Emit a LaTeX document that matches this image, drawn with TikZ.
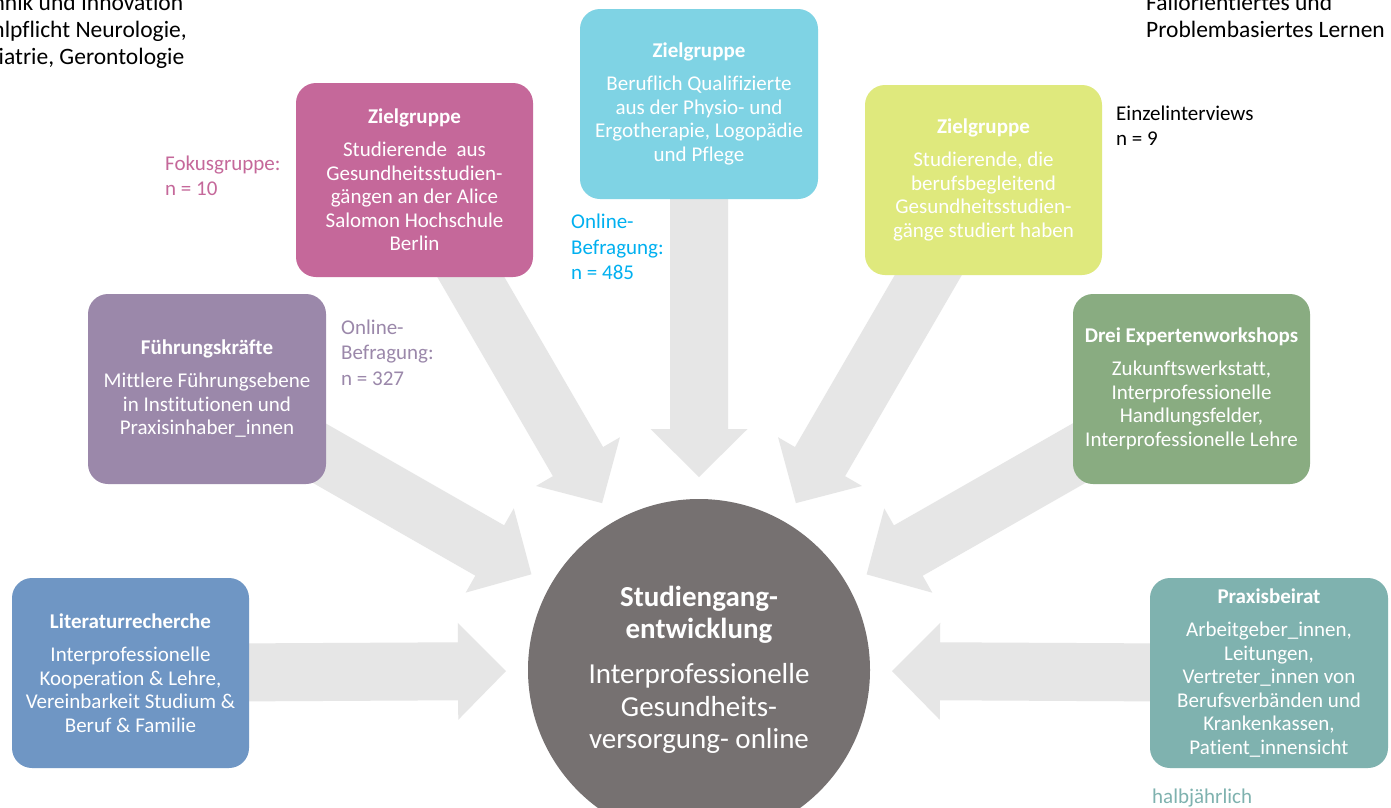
\documentclass[tikz,border=0pt]{standalone}
\usepackage{fontspec}
\setmainfont{Carlito}[Ligatures=CommonOff]
\usetikzlibrary{calc}
\definecolor{cLit}{RGB}{111,150,196}
\definecolor{cFuehr}{RGB}{155,136,170}
\definecolor{cPink}{RGB}{197,104,154}
\definecolor{cCyan}{RGB}{127,211,228}
\definecolor{cYellow}{RGB}{223,233,125}
\definecolor{cGreen}{RGB}{137,172,129}
\definecolor{cTeal}{RGB}{127,178,175}
\definecolor{cCircle}{RGB}{118,113,113}
\definecolor{cArrow}{RGB}{230,230,230}
\definecolor{cBlue}{RGB}{0,176,240}
\pgfdeclarelayer{bg}
\pgfsetlayers{bg,main}
\tikzset{
  box/.style={rectangle, rounded corners=20pt, minimum width=237pt, minimum height=190pt,
    inner sep=0pt, text=white, align=center, font=\fontsize{21}{23.5}\selectfont},
  lab/.style={anchor=base west, inner sep=0pt, font=\fontsize{21}{25.5}\selectfont},
  corner/.style={anchor=base west, inner sep=0pt, font=\fontsize{23.5}{27}\selectfont},
  cornerR/.style={anchor=base east, inner sep=0pt, font=\fontsize{23.5}{27}\selectfont},
  garrow/.style={fill=cArrow},
}
\newcommand{\radarrow}[1]{%
  \coordinate (T) at ($(circ.center)!193pt!(#1.center)$);
  \coordinate (H) at ($(circ.center)!241pt!(#1.center)$);
  \fill[garrow] ($(#1.center)!29pt!90:(H)$) -- ($(H)!29pt!-90:(#1.center)$)
    -- ($(H)!48.5pt!-90:(#1.center)$) -- (T) -- ($(H)!48.5pt!90:(#1.center)$)
    -- ($(H)!29pt!90:(#1.center)$) -- ($(#1.center)!29pt!-90:(H)$) -- cycle;
}
\begin{document}
\begin{tikzpicture}[x=1pt,y=-1pt]
\useasboundingbox (0,0) rectangle (1391,807);
\clip (0,0) rectangle (1391,807);

% central circle
\node[circle, fill=cCircle, minimum size=342pt, inner sep=0pt, text=white, align=center,
  font=\fontsize{29}{32.5}\selectfont] (circ) at (699,670)
  {\textbf{Studiengang-}\\\textbf{entwicklung}\\[12.5pt]Interprofessionelle\\Gesundheits-\\versorgung- online};

% boxes
\node[box, fill=cLit] (lit) at (130.5,673)
  {\textbf{Literaturrecherche}\\[9.5pt]Interprofessionelle\\Kooperation \& Lehre,\\Vereinbarkeit Studium \&\\Beruf \& Familie};
\node[box, fill=cFuehr, minimum width=238pt] (fuehr) at (207,389)
  {\textbf{Führungskräfte}\\[9.5pt]Mittlere Führungsebene\\in Institutionen und\\Praxisinhaber\_innen};
\node[box, fill=cPink, minimum height=194pt] (pink) at (414.5,180)
  {\textbf{Zielgruppe}\\[9.5pt]Studierende\ \ aus\\Gesundheitsstudien-\\gängen an der Alice\\Salomon Hochschule\\Berlin};
\node[box, fill=cCyan, minimum width=238pt] (cyan) at (699,104)
  {\textbf{Zielgruppe}\\[9.5pt]Beruflich Qualifizierte\\aus der Physio- und\\Ergotherapie, Logopädie\\und Pflege};
\node[box, fill=cYellow] (yellow) at (983.5,180)
  {\textbf{Zielgruppe}\\[9.5pt]Studierende, die\\berufsbegleitend\\Gesundheitsstudien-\\gänge studiert haben};
\node[box, fill=cGreen] (drei) at (1191.5,389)
  {\textbf{Drei Expertenworkshops}\\[9.5pt]Zukunftswerkstatt,\\Interprofessionelle\\Handlungsfelder,\\Interprofessionelle Lehre};
\node[box, fill=cTeal, minimum width=238pt] (praxis) at (1269,673)
  {\textbf{Praxisbeirat}\\[9.5pt]Arbeitgeber\_innen,\\Leitungen,\\Vertreter\_innen von\\Berufsverbänden und\\Krankenkassen,\\Patient\_innensicht};

% labels
\node[lab, text=cPink] (fok) at (165,170) {\vtop{\hbox{Fokusgruppe:}\hbox{n = 10}}};
\node[lab, text=cFuehr] (on327) at (341,334) {\vtop{\hbox{Online-}\hbox{Befragung:}\hbox{n = 327}}};
\node[lab, text=cBlue] (on485) at (571,228.5) {\vtop{\hbox{Online-}\hbox{Befragung:}\hbox{n = 485}}};
\node[lab, text=black] (einzel) at (1116,120) {\vtop{\hbox{Einzelinterviews}\hbox{n = 9}}};
\node[lab, text=cTeal] (halb) at (1152,803) {halbjährlich};

% cut-off corner texts
\node[cornerR, text=black] (tl1) at (183.5,10.5) {hnik und Innovation};
\node[cornerR, text=black] (tl2) at (187,37.5) {hlpflicht Neurologie,};
\node[cornerR, text=black] (tl3) at (184.5,64.5) {iatrie, Gerontologie};
\node[corner, text=black] (tr) at (1146,10.5)
  {\vtop{\hbox{Fallorientiertes und}\hbox{Problembasiertes Lernen}}};

% arrows behind
\begin{pgfonlayer}{bg}
  \fill[white] (0,0) rectangle (1391,807);
  \radarrow{lit}
  \radarrow{fuehr}
  \radarrow{pink}
  \radarrow{cyan}
  \radarrow{yellow}
  \radarrow{drei}
  \radarrow{praxis}
\end{pgfonlayer}
\end{tikzpicture}
\end{document}
